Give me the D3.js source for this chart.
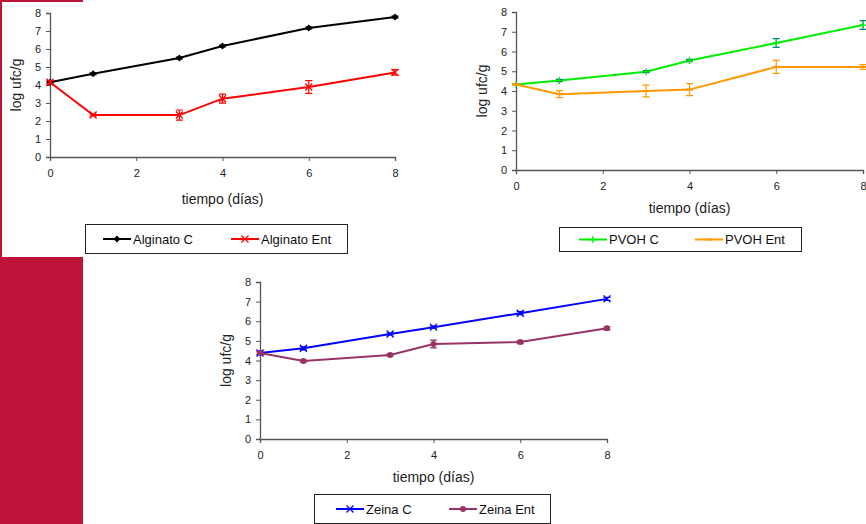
<!DOCTYPE html>
<html>
<head>
<meta charset="utf-8">
<script src="https://cdn.jsdelivr.net/npm/d3@7"></script>
<style>
  body { margin: 0; background: #fff; }
  svg { display: block; font-family: Arial, "Liberation Sans", sans-serif; }
</style>
</head>
<body>
<div id="chart"></div>
<script>
// datos
var dias = [0, 1, 3, 4, 6, 8];
var xTicks = [0, 2, 4, 6, 8];
var yTicks = [0, 1, 2, 3, 4, 5, 6, 7, 8];

var alginatoC = [4.15, 4.63, 5.5, 6.17, 7.17, 7.78];
var alginatoCErr = [0.05, 0.05, 0.05, 0.05, 0.05, 0.05];
var alginatoEnt = [4.15, 2.33, 2.33, 3.24, 3.89, 4.7];
var alginatoEntErr = [0.1, 0.05, 0.28, 0.25, 0.35, 0.15];

var pvohC = [4.33, 4.53, 4.98, 5.54, 6.43, 7.34];
var pvohCErr = [0.05, 0.06, 0.05, 0.06, 0.22, 0.22];
var pvohEnt = [4.33, 3.84, 4.0, 4.07, 5.22, 5.22];
var pvohEntErr = [0.05, 0.18, 0.3, 0.3, 0.33, 0.12];

var zeinaC = [4.38, 4.62, 5.35, 5.7, 6.41, 7.14];
var zeinaCErr = [0.08, 0.08, 0.05, 0.05, 0.08, 0.08];
var zeinaEnt = [4.38, 3.97, 4.28, 4.84, 4.94, 5.64];
var zeinaEntErr = [0.05, 0.05, 0.06, 0.2, 0.08, 0.08];

var W = 866, H = 524;
var svg = d3.select("#chart").append("svg")
    .attr("width", W).attr("height", H);

// fondo rojo de la diapositiva
var rojo = "#be1238";
svg.append("rect").attr("x", 0).attr("y", 257).attr("width", 83).attr("height", H - 257).attr("fill", rojo);
svg.append("rect").attr("x", 0).attr("y", 0).attr("width", 83).attr("height", 2).attr("fill", rojo);
svg.append("rect").attr("x", 0).attr("y", 0).attr("width", 2).attr("height", 257).attr("fill", rojo);

function marker(g, type, color, cx, cy) {
  var s = 3.5;
  if (type == "diamond") {
    g.append("path")
      .attr("d", "M" + cx + "," + (cy - s) + "L" + (cx + s) + "," + cy + "L" + cx + "," + (cy + s) + "L" + (cx - s) + "," + cy + "Z")
      .attr("fill", color);
  } else if (type == "x") {
    g.append("path")
      .attr("d", "M" + (cx - s) + "," + (cy - s) + "L" + (cx + s) + "," + (cy + s) + "M" + (cx - s) + "," + (cy + s) + "L" + (cx + s) + "," + (cy - s))
      .attr("stroke", color).attr("stroke-width", 1.3).attr("fill", "none");
  } else if (type == "plus") {
    g.append("path")
      .attr("d", "M" + cx + "," + (cy - s) + "L" + cx + "," + (cy + s) + "M" + (cx - s) + "," + cy + "L" + (cx + s) + "," + cy)
      .attr("stroke", color).attr("stroke-width", 1.3).attr("fill", "none");
  } else if (type == "dash") {
    g.append("path")
      .attr("d", "M" + (cx - s) + "," + cy + "L" + (cx + s) + "," + cy)
      .attr("stroke", color).attr("stroke-width", 2).attr("fill", "none");
  } else if (type == "circle") {
    g.append("circle").attr("cx", cx).attr("cy", cy).attr("r", 3).attr("fill", color);
  }
}

function panel(cfg) {
  var x = d3.scaleLinear().domain([0, 8]).range([cfg.left, cfg.right]);
  var y = d3.scaleLinear().domain([0, 8]).range([cfg.bottom, cfg.top]);
  var g = svg.append("g");

  // ejes
  var ax = g.append("g")
    .attr("transform", "translate(0," + cfg.bottom + ")")
    .call(d3.axisBottom(x).tickValues(xTicks).tickSize(4).tickPadding(8));
  var ay = g.append("g")
    .attr("transform", "translate(" + cfg.left + ",0)")
    .call(d3.axisLeft(y).tickValues(yTicks).tickSize(4).tickPadding(5));
  [ax, ay].forEach(function(a) {
    a.select(".domain").attr("stroke", "#555").attr("stroke-width", 1.3);
    a.selectAll(".tick line").attr("stroke", "#555");
    a.selectAll("text").attr("font-size", 11).attr("fill", "#222")
      .attr("font-family", "Arial, 'Liberation Sans', sans-serif");
  });

  g.append("text")
    .attr("x", (cfg.left + cfg.right) / 2).attr("y", cfg.bottom + cfg.titleGap)
    .attr("text-anchor", "middle").attr("font-size", 14).attr("fill", "#222")
    .text("tiempo (días)");
  g.append("text")
    .attr("transform", "translate(" + (cfg.left - 29) + "," + ((cfg.top + cfg.bottom) / 2) + ") rotate(-90)")
    .attr("text-anchor", "middle").attr("font-size", 14).attr("fill", "#222")
    .text("log ufc/g");

  var line = d3.line().x(function(d) { return x(d[0]); }).y(function(d) { return y(d[1]); });

  cfg.series.forEach(function(s) {
    var pts = dias.map(function(d, i) { return [d, s.values[i], s.err[i]]; });
    g.append("path").datum(pts)
      .attr("d", line).attr("fill", "none")
      .attr("stroke", s.color).attr("stroke-width", 2);
    // barras de error
    pts.forEach(function(p) {
      var xx = x(p[0]), y1 = y(p[1] + p[2]), y2 = y(p[1] - p[2]);
      g.append("path")
        .attr("d", "M" + xx + "," + y1 + "L" + xx + "," + y2 +
                   "M" + (xx - 3.5) + "," + y1 + "L" + (xx + 3.5) + "," + y1 +
                   "M" + (xx - 3.5) + "," + y2 + "L" + (xx + 3.5) + "," + y2)
        .attr("stroke", s.errColor || s.color).attr("stroke-width", 1.2).attr("fill", "none");
    });
    pts.forEach(function(p) { marker(g, s.marker, s.color, x(p[0]), y(p[1])); });
  });

  // leyenda
  var L = cfg.legend;
  g.append("rect").attr("x", L.x).attr("y", L.y).attr("width", L.w).attr("height", L.h)
    .attr("fill", "#fff").attr("stroke", "#222").attr("stroke-width", 1);
  cfg.series.forEach(function(s, i) {
    var sx = L.items[i], cy = L.y + L.h / 2;
    g.append("line").attr("x1", sx).attr("x2", sx + 28).attr("y1", cy).attr("y2", cy)
      .attr("stroke", s.color).attr("stroke-width", 2);
    marker(g, s.marker, s.color, sx + 14, cy);
    g.append("text").attr("x", sx + 30).attr("y", cy + 4.5)
      .attr("font-size", 13).attr("fill", "#111").text(s.name);
  });
}

panel({
  left: 50, right: 395, top: 13, bottom: 157, titleGap: 47,
  series: [
    { name: "Alginato C", values: alginatoC, err: alginatoCErr, color: "#000000", marker: "diamond" },
    { name: "Alginato Ent", values: alginatoEnt, err: alginatoEntErr, color: "#ff0000", marker: "x" }
  ],
  legend: { x: 85.5, y: 224.5, w: 262, h: 29, items: [103, 231] }
});

panel({
  left: 516, right: 863, top: 12, bottom: 170, titleGap: 43,
  series: [
    { name: "PVOH C", values: pvohC, err: pvohCErr, color: "#00ee00", errColor: "#008080", marker: "plus" },
    { name: "PVOH Ent", values: pvohEnt, err: pvohEntErr, color: "#ff9900", marker: "dash" }
  ],
  legend: { x: 559.5, y: 227.5, w: 242, h: 24, items: [579, 695] }
});

panel({
  left: 260, right: 607, top: 282, bottom: 439, titleGap: 43,
  series: [
    { name: "Zeina C", values: zeinaC, err: zeinaCErr, color: "#0000ff", marker: "x" },
    { name: "Zeina Ent", values: zeinaEnt, err: zeinaEntErr, color: "#993366", marker: "circle" }
  ],
  legend: { x: 314.5, y: 494.5, w: 236, h: 29, items: [336, 449] }
});
</script>
</body>
</html>
